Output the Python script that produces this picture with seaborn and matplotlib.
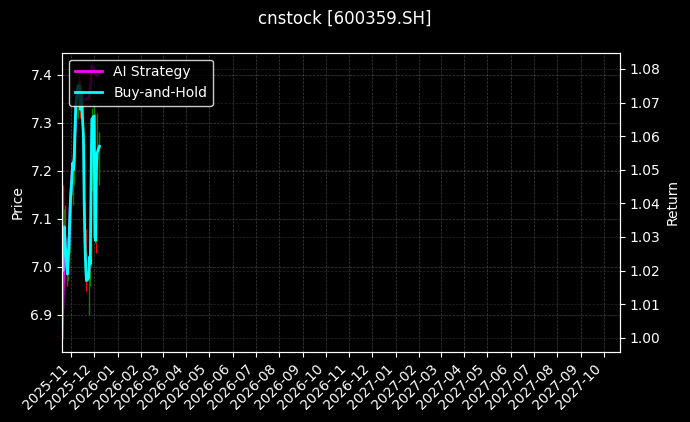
import matplotlib
matplotlib.use("Agg")
import matplotlib.pyplot as plt
import matplotlib.dates as mdates
import numpy as np
import pandas as pd
import seaborn as sns

title = "cnstock [600359.SH]"
dates = pd.bdate_range("2025-10-20", "2025-12-08")

open_ = [6.98,7.08,7.00,7.06,7.10,7.04,6.99,7.03,7.05,7.11,7.15,7.23,7.19,7.24,7.30,7.33,7.38,7.34,7.37,7.33,
         7.35,7.26,7.12,7.06,7.00,6.97,6.99,7.03,7.02,7.18,7.30,7.30,7.08,7.07,7.21,7.23]
high = [7.10,7.17,7.09,7.12,7.13,7.06,7.04,7.07,7.12,7.16,7.24,7.26,7.25,7.31,7.35,7.39,7.40,7.39,7.39,7.38,
        7.37,7.28,7.14,7.08,7.03,7.00,7.04,7.05,7.19,7.33,7.34,7.32,7.10,7.22,7.32,7.28]
low = [6.95,6.97,6.98,7.04,7.03,6.96,6.97,7.01,7.03,7.09,7.13,7.18,7.17,7.22,7.28,7.31,7.33,7.32,7.31,7.31,
       7.25,7.11,7.03,6.97,6.95,6.90,6.96,6.99,7.00,7.16,7.28,7.05,7.03,7.05,7.18,7.17]
close = [7.07,7.00,7.07,7.09,7.05,6.99,7.02,7.05,7.10,7.14,7.22,7.20,7.23,7.29,7.33,7.37,7.35,7.37,7.33,7.36,
         7.27,7.13,7.05,7.00,6.98,6.98,7.02,7.01,7.17,7.31,7.31,7.07,7.06,7.20,7.24,7.25]

ai_strategy = [1.000,1.010,1.020,1.033,1.028,1.019,1.024,1.027,1.035,1.041,1.052,1.050,1.054,1.062,1.069,1.075,
               1.072,1.075,1.068,1.071,1.071,1.071,1.071,1.071,1.071,1.071,1.072,1.074,1.077,1.081,1.080,1.079,
               1.079,1.078,1.078,1.079]
buy_hold = [1.030,1.020,1.031,1.033,1.028,1.019,1.024,1.027,1.035,1.041,1.052,1.050,1.054,1.062,1.069,1.075,
            1.072,1.075,1.068,1.073,1.060,1.040,1.028,1.021,1.017,1.018,1.024,1.022,1.045,1.065,1.066,1.030,
            1.029,1.050,1.055,1.057]

plt.style.use("dark_background")
fig = plt.figure(figsize=(6.9, 4.22), dpi=100)
ax = fig.add_axes([0.09, 0.166, 0.808, 0.709])

df = pd.DataFrame({"date": dates, "open": open_, "high": high, "low": low, "close": close,
                   "AI Strategy": ai_strategy, "Buy-and-Hold": buy_hold})

up = df["close"] >= df["open"]
colors = np.where(up, "green", "red")
ax.vlines(df["date"], df["low"], df["high"], colors=colors, linewidth=1.0, zorder=2)
ax.bar(df["date"], (df["close"] - df["open"]).abs(), bottom=np.minimum(df["open"], df["close"]),
       width=0.8, color=colors, zorder=2)

x_start, x_end = pd.Timestamp("2025-10-20"), pd.Timestamp("2027-10-22")
ax.set_ylabel("Price")
ax.set_ylim(6.823, 7.446)
ax.set_xlim(x_start, x_end)
ax.xaxis.set_major_locator(mdates.MonthLocator())
ax.xaxis.set_major_formatter(mdates.DateFormatter("%Y-%m"))
ax.grid(True, linestyle="--", linewidth=0.5, color="gray", alpha=0.5)

ax2 = ax.twinx()
sns.lineplot(data=df, x="date", y="AI Strategy", ax=ax2, color="magenta", linewidth=2, label="AI Strategy")
sns.lineplot(data=df, x="date", y="Buy-and-Hold", ax=ax2, color="cyan", linewidth=2, label="Buy-and-Hold")
ax2.set_ylabel("Return")
ax2.set_ylim(0.9958, 1.0848)
ax2.set_xlim(x_start, x_end)
ax2.grid(True, axis="y", linestyle="--", linewidth=0.5, color="gray", alpha=0.3)
ax2.legend(loc="upper left", facecolor="black", edgecolor="white", framealpha=0.8)
ax2.set_xlabel("")
plt.setp(ax.get_xticklabels(), rotation=45, ha="right")

fig.suptitle(title, fontsize=12, y=0.978)
fig.savefig("out.png", dpi=100)
